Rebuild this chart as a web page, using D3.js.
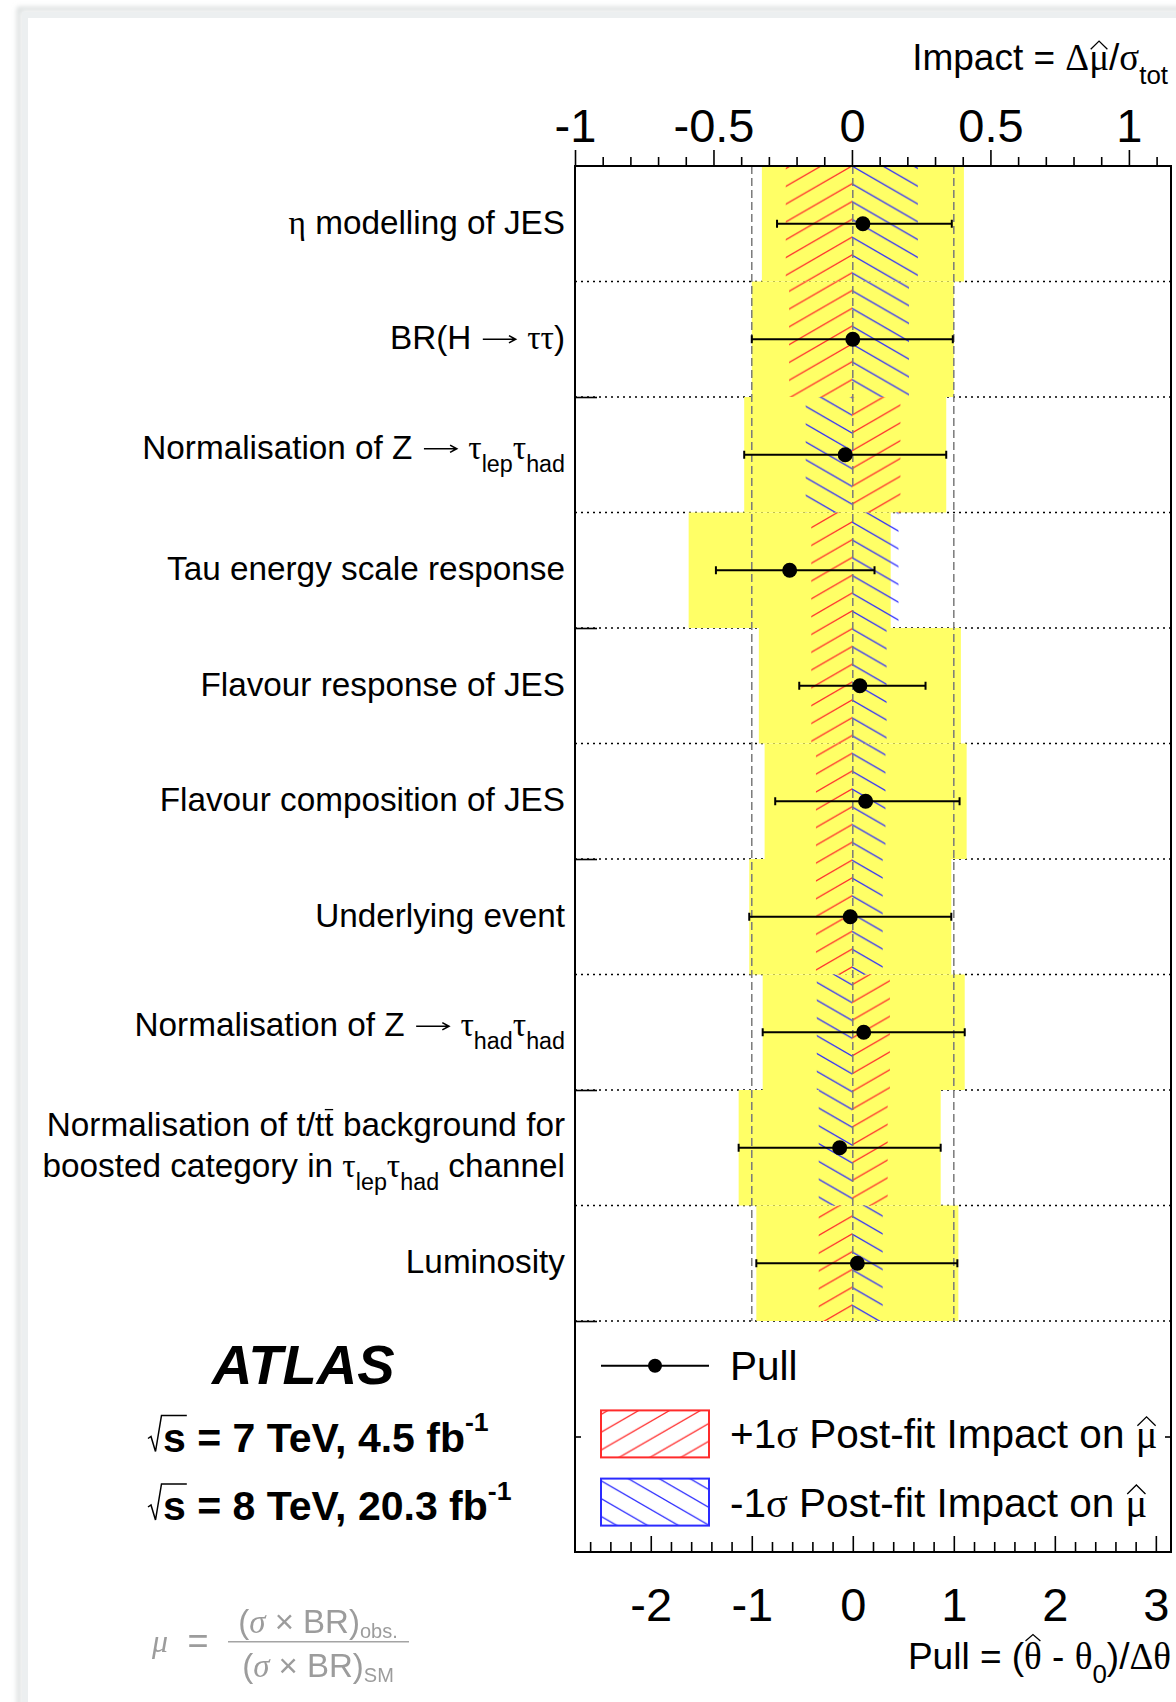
<!DOCTYPE html>
<html>
<head>
<meta charset="utf-8">
<script src="https://cdn.jsdelivr.net/npm/d3@7"></script>
<style>
  html, body { margin: 0; padding: 0; background: #fff; }
  svg { display: block; }
</style>
</head>
<body>
<svg id="chart" width="1176" height="1702"></svg>
<script>
// ---- Nuisance-parameter ranking (top to bottom), TLatex-style labels ----
const parameterLabels = [
  "#eta modelling of JES",
  "BR(H #rightarrow #tau#tau)",
  "Normalisation of Z #rightarrow #tau_{lep}#tau_{had}",
  "Tau energy scale response",
  "Flavour response of JES",
  "Flavour composition of JES",
  "Underlying event",
  "Normalisation of Z #rightarrow #tau_{had}#tau_{had}",
  "Normalisation of t/t#bar{t} background for\nboosted category in #tau_{lep}#tau_{had} channel",
  "Luminosity"
];

// Pull (theta_hat - theta_0)/Delta theta and its post-fit errors
const pullValues  = [0.10, 0.00, -0.075, -0.625, 0.07, 0.127, -0.025, 0.108, -0.13, 0.045];
const pullErrLow  = [0.85, 1.00, 1.00, 0.73, 0.60, 0.895, 1.00, 1.00, 1.00, 1.00];
const pullErrHigh = [0.88, 0.99, 1.00, 0.84, 0.65, 0.93, 1.00, 1.00, 1.00, 0.99];

// Post-fit impact on mu_hat for +1 sigma and -1 sigma variations
const impactUp   = [-0.239, -0.227, 0.175, -0.147, -0.147, -0.130, -0.130, 0.137, 0.129, -0.120];
const impactDown = [0.238, 0.206, -0.167, 0.168, 0.125, 0.121, 0.111, -0.127, -0.120, 0.111];

// Axis ticks
const impactTicks = [-1, -0.5, 0, 0.5, 1];
const pullTicks = [-2, -1, 0, 1, 2, 3];
const pullGuides = [-1, 0, 1];

// Legend entries
const legendLabels = ["Pull", "+1#sigma Post-fit Impact on #hat{#mu}", "-1#sigma Post-fit Impact on #hat{#mu}"];

// ---- Layout ----
const W = 1176, H = 1702;
const frame = { x0: 575, x1: 1171, y0: 166, y1: 1552 };
const SANS = "'Liberation Sans', Arial, Helvetica, sans-serif";
const SERIF = "'Liberation Serif', 'Times New Roman', serif";
const RED = "#ff2b2b", BLUE = "#2b2bff", YELLOW = "#ffff66";

const svg = d3.select("#chart");
const defs = svg.append("defs");

// Scales
const impact = d3.scaleLinear().domain([-1, 1.152]).range([frame.x0, frame.x1]);
const pull = d3.scaleLinear().domain([-2.75, 3.15]).range([frame.x0, frame.x1]);
const slots = d3.scaleBand().domain(d3.range(12)).range([frame.y0, frame.y1]).padding(0);
const yUnits = d3.scaleLinear().domain([0, 12]).range([frame.y1, frame.y0]);
const bw = slots.bandwidth();
const rowCenter = i => slots(i) + bw / 2;
const nRows = parameterLabels.length;

// ---- Page edge with soft shadow ----
defs.append("filter").attr("id", "pageShadow")
  .attr("x", "-5%").attr("y", "-5%").attr("width", "110%").attr("height", "110%")
  .append("feGaussianBlur").attr("stdDeviation", 2.5);
defs.append("filter").attr("id", "haze")
  .append("feGaussianBlur").attr("stdDeviation", 0.7);

svg.append("rect").attr("x", 19).attr("y", 9).attr("width", W).attr("height", H)
  .attr("fill", "none").attr("stroke", "#d6dada").attr("stroke-width", 4)
  .attr("filter", "url(#pageShadow)");
svg.append("rect").attr("x", 25).attr("y", 15).attr("width", W).attr("height", H)
  .attr("fill", "#fff").attr("stroke", "#eceff0").attr("stroke-width", 6);

// ---- Hatch patterns anchored on impact = 0 so both hatches meet on the axis ----
function hatch(id, color, rising) {
  const hh = 17.8, ww = hh / Math.tan(Math.PI / 6);
  const p = defs.append("pattern").attr("id", id)
    .attr("patternUnits", "userSpaceOnUse")
    .attr("width", ww).attr("height", hh)
    .attr("x", impact(0)).attr("y", frame.y0);
  [-1, 0, 1].forEach(k => {
    const d = rising
      ? `M${-ww},${2 * hh + k * hh} L${2 * ww},${-hh + k * hh}`
      : `M${-ww},${-hh + k * hh} L${2 * ww},${2 * hh + k * hh}`;
    p.append("path").attr("d", d).attr("stroke", color)
      .attr("stroke-width", 1.25).attr("fill", "none");
  });
}
hatch("hatchUp", RED, true);
hatch("hatchDown", BLUE, false);

// ---- Minimal TLatex-like text rendering ----
const GREEK = { eta: "η", tau: "τ", mu: "μ", sigma: "σ", theta: "θ", Delta: "Δ" };
function parseTex(src, base = {}) {
  const out = [];
  let i = 0, buf = "";
  const flush = () => { if (buf) { out.push({ ...base, text: buf }); buf = ""; } };
  const group = () => {
    let depth = 0, j = i;
    for (; j < src.length; j++) {
      if (src[j] === "{") depth++;
      else if (src[j] === "}" && --depth === 0) break;
    }
    const inner = src.slice(i + 1, j);
    i = j + 1;
    return inner;
  };
  while (i < src.length) {
    const c = src[i];
    if (c === "#") {
      const m = /^#([A-Za-z]+)/.exec(src.slice(i));
      const name = m[1];
      i += m[0].length;
      if (name in GREEK) { flush(); out.push({ ...base, text: GREEK[name], serif: true }); }
      else if (name === "rightarrow") { flush(); out.push({ ...base, text: "\u2003", arrow: true, deco: "arrow" }); }
      else { flush(); out.push(...parseTex(group(), { ...base, deco: name })); }
    } else if (c === "_" || c === "^") {
      flush();
      i++;
      const inner = src[i] === "{" ? group() : src[i++];
      out.push(...parseTex(inner, { ...base, shift: c === "_" ? "sub" : "sup" }));
    } else {
      buf += c;
      i++;
    }
  }
  flush();
  return out;
}

function drawTex(parent, src, x, y, opt) {
  const size = opt.size;
  const runs = parseTex(src);
  const t = parent.append("text")
    .attr("x", x).attr("y", y)
    .attr("text-anchor", opt.anchor || "start")
    .attr("font-family", SANS)
    .attr("font-size", size)
    .attr("font-weight", opt.weight || "normal")
    .attr("font-style", opt.style || "normal")
    .attr("fill", opt.fill || "#000")
    .style("white-space", "pre");
  let cur = 0, idx = 0;
  const marks = [];
  runs.forEach(r => {
    let scale = r.shift === "sub" ? (opt.subScale || 0.7) : r.shift === "sup" ? (opt.supScale || 0.65) : 1;
    if (r.arrow) scale = 1.12;
    const off = r.shift === "sub" ? size * (opt.subDrop || 0.37) : r.shift === "sup" ? -size * 0.5 : 0;
    const ts = t.append("tspan").text(r.text)
      .attr("dy", off - cur)
      .attr("font-size", size * scale);
    if (r.serif) ts.attr("font-family", SERIF).attr("font-weight", "normal").attr("font-style", "normal");
    cur = off;
    if (r.deco) marks.push({ deco: r.deco, start: idx, n: r.text.length, base: y + off, s: r.arrow ? size : size * scale, ch: r.text });
    idx += r.text.length;
  });
  const node = t.node();
  const stroke = opt.fill || "#000";
  marks.forEach(m => {
    const a = node.getExtentOfChar(m.start);
    const b = node.getExtentOfChar(m.start + m.n - 1);
    const x0 = a.x, x1 = b.x + b.width, w = x1 - x0;
    let d;
    if (m.deco === "hat") {
      const tall = m.ch === "θ";
      const lo = m.base - m.s * (tall ? 0.76 : 0.56);
      const hi = m.base - m.s * (tall ? 0.93 : 0.78);
      d = `M${x0 + w * 0.08},${lo} L${(x0 + x1) / 2},${hi} L${x1 - w * 0.08},${lo}`;
    } else if (m.deco === "bar") {
      const yb = m.base - m.s * 0.8;
      d = `M${x0 + w * 0.05},${yb} L${x1 - w * 0.05},${yb}`;
    } else if (m.deco === "sqrt") {
      const top = m.base - m.s * 0.88;
      d = `M${x0 - 15},${m.base - 13} L${x0 - 12},${m.base - 15} L${x0 - 7.5},${m.base} ` +
          `L${x0 - 1.5},${top} L${x1 + 1},${top}`;
    } else if (m.deco === "arrow") {
      const ya = m.base - m.s * 0.3, xs = x0 + w * 0.06, xe = x1 - w * 0.06;
      const hl = m.s * 0.2, hw = m.s * 0.11;
      d = `M${xs},${ya} L${xe},${ya} M${xe - hl},${ya - hw} L${xe},${ya} L${xe - hl},${ya + hw}`;
    }
    parent.append("path").attr("d", d).attr("fill", "none")
      .attr("stroke", stroke).attr("stroke-width", m.deco === "sqrt" ? 1.5 : m.deco === "arrow" ? 1.6 : 1.3)
      .attr("stroke-linejoin", "miter");
  });
  return t;
}

// ---- Plot body ----
const plot = svg.append("g");

// Row separators (dotted)
plot.append("g").selectAll("line")
  .data(d3.range(nRows))
  .join("line")
  .attr("x1", frame.x0).attr("x2", frame.x1)
  .attr("y1", i => slots(i) + bw).attr("y2", i => slots(i) + bw)
  .attr("stroke", "#000").attr("stroke-width", 1.5)
  .attr("stroke-dasharray", "2,4");

// Yellow band: pull +/- 1
plot.append("g").selectAll("rect")
  .data(pullValues)
  .join("rect")
  .attr("x", p => pull(p - 1))
  .attr("width", p => pull(p + 1) - pull(p - 1))
  .attr("y", (p, i) => slots(i))
  .attr("height", bw)
  .attr("fill", YELLOW);

// Impact hatches
function impactRects(values, fillId) {
  plot.append("g").selectAll("rect")
    .data(values)
    .join("rect")
    .attr("x", v => Math.min(impact(0), impact(v)))
    .attr("width", v => Math.abs(impact(v) - impact(0)))
    .attr("y", (v, i) => slots(i))
    .attr("height", bw)
    .attr("fill", `url(#${fillId})`);
}
impactRects(impactUp, "hatchUp");
impactRects(impactDown, "hatchDown");

// Pull guide lines at -1, 0, +1
plot.append("g").selectAll("line")
  .data(pullGuides)
  .join("line")
  .attr("x1", d => pull(d)).attr("x2", d => pull(d))
  .attr("y1", frame.y0).attr("y2", slots(nRows - 1) + bw)
  .attr("stroke", "#7a7a7a").attr("stroke-width", 1.5)
  .attr("stroke-dasharray", "8,4");

// Pull error bars and points
const bars = plot.append("g").selectAll("g")
  .data(pullValues.map((p, i) => ({ p, lo: pullErrLow[i], hi: pullErrHigh[i], i })))
  .join("g")
  .attr("stroke", "#000").attr("stroke-width", 2);
bars.append("line")
  .attr("x1", d => pull(d.p - d.lo)).attr("x2", d => pull(d.p + d.hi))
  .attr("y1", d => rowCenter(d.i)).attr("y2", d => rowCenter(d.i));
bars.append("line")
  .attr("x1", d => pull(d.p - d.lo)).attr("x2", d => pull(d.p - d.lo))
  .attr("y1", d => rowCenter(d.i) - 4).attr("y2", d => rowCenter(d.i) + 4);
bars.append("line")
  .attr("x1", d => pull(d.p + d.hi)).attr("x2", d => pull(d.p + d.hi))
  .attr("y1", d => rowCenter(d.i) - 4).attr("y2", d => rowCenter(d.i) + 4);
bars.append("circle")
  .attr("cx", d => pull(d.p)).attr("cy", d => rowCenter(d.i))
  .attr("r", 7.5).attr("fill", "#000").attr("stroke", "none");

// ---- Frame and axes ----
svg.append("rect")
  .attr("x", frame.x0).attr("y", frame.y0)
  .attr("width", frame.x1 - frame.x0).attr("height", frame.y1 - frame.y0)
  .attr("fill", "none").attr("stroke", "#000").attr("stroke-width", 2);

function styleAxis(g) {
  g.select(".domain").remove();
  g.selectAll(".tick line").attr("stroke", "#000").attr("stroke-width", 1.6);
  g.selectAll("text").attr("font-family", SANS).attr("font-size", 47).attr("fill", "#000");
}

// Top: impact axis
const impactMinor = d3.range(-10, 12).map(k => k / 10).filter(v => Math.abs(v * 2 - Math.round(v * 2)) > 1e-6);
svg.append("g").attr("transform", `translate(0,${frame.y0})`)
  .call(d3.axisTop(impact).tickValues(impactMinor).tickSize(9).tickFormat(""))
  .call(styleAxis);
svg.append("g").attr("transform", `translate(0,${frame.y0})`)
  .call(d3.axisTop(impact).tickValues(impactTicks).tickSize(16).tickFormat(d => String(d)))
  .call(styleAxis)
  .call(g => g.selectAll("text").attr("y", -24.5).attr("dy", null));

// Bottom: pull axis, ticks pointing inward
const pullMinor = d3.range(-13, 16).map(k => k / 5).filter(v => Math.abs(v - Math.round(v)) > 1e-6);
svg.append("g").attr("transform", `translate(0,${frame.y1})`)
  .call(d3.axisBottom(pull).tickValues(pullMinor).tickSize(-10).tickFormat(""))
  .call(styleAxis);
svg.append("g").attr("transform", `translate(0,${frame.y1})`)
  .call(d3.axisBottom(pull).tickValues(pullTicks).tickSize(-16).tickFormat(d => String(d)))
  .call(styleAxis)
  .call(g => g.selectAll("text").attr("y", 68.7).attr("dy", null));

// Left / right vertical ticks
svg.append("g").attr("transform", `translate(${frame.x0},0)`)
  .call(d3.axisRight(yUnits).tickValues([2, 4, 6, 8, 10]).tickSize(22).tickFormat(""))
  .call(styleAxis);
svg.append("g").attr("transform", `translate(${frame.x0},0)`)
  .call(d3.axisRight(yUnits).tickValues([1]).tickSize(6).tickFormat(""))
  .call(styleAxis);
svg.append("g").attr("transform", `translate(${frame.x1},0)`)
  .call(d3.axisLeft(yUnits).tickValues([1]).tickSize(6).tickFormat(""))
  .call(styleAxis);

// Axis titles
drawTex(svg, "Impact = #Delta#hat{#mu}/#sigma_{tot}", 1168, 70, { size: 37, anchor: "end" });
drawTex(svg, "Pull = (#hat{#theta} - #theta_{0})/#Delta#theta", 1171, 1669, { size: 37, anchor: "end" });

// ---- Parameter labels ----
const labelGroup = svg.append("g");
parameterLabels.forEach((lab, i) => {
  const lines = lab.split("\n");
  const hasSub = lab.includes("_{");
  const shift = lines.length > 1 ? 9 : (hasSub ? 4 : 10);
  lines.forEach((ln, k) => {
    const y = rowCenter(i) + shift + (k - (lines.length - 1) / 2) * 41;
    drawTex(labelGroup, ln, 565, y, { size: 33.3, anchor: "end", subDrop: 0.39 });
  });
});

// ---- Legend ----
const legend = svg.append("g");
const legX = 601, legW = 108, boxH = 47, textX = 730;
const legCenter = k => slots(10) + 44.7 + k * 68.2;
legend.append("line")
  .attr("x1", legX).attr("x2", legX + legW)
  .attr("y1", legCenter(0)).attr("y2", legCenter(0))
  .attr("stroke", "#000").attr("stroke-width", 2);
legend.append("circle")
  .attr("cx", legX + legW / 2).attr("cy", legCenter(0)).attr("r", 7);
[["hatchUp", RED], ["hatchDown", BLUE]].forEach(([id, col], k) => {
  legend.append("rect")
    .attr("x", legX).attr("y", legCenter(k + 1) - boxH / 2)
    .attr("width", legW).attr("height", boxH)
    .attr("fill", `url(#${id})`).attr("stroke", col).attr("stroke-width", 2);
});
legendLabels.forEach((lab, k) => {
  drawTex(legend, lab, textX, legCenter(k) + 14.5, { size: 40.5 });
});

// ---- Experiment label ----
const atlas = svg.append("g");
atlas.append("text")
  .attr("x", 212).attr("y", 1383.5)
  .attr("font-family", SANS).attr("font-size", 56)
  .attr("font-weight", "bold").attr("font-style", "italic")
  .text("ATLAS");
drawTex(atlas, "#sqrt{s} = 7 TeV, 4.5 fb^{-1}", 163, 1451.5, { size: 41, weight: "bold" });
drawTex(atlas, "#sqrt{s} = 8 TeV, 20.3 fb^{-1}", 163, 1520, { size: 41, weight: "bold" });

// ---- Signal-strength definition ----
const muDef = svg.append("g").attr("fill", "#9c9c9c").attr("filter", "url(#haze)");
muDef.append("text").attr("x", 152).attr("y", 1652)
  .attr("font-family", SERIF).attr("font-style", "italic").attr("font-size", 32).text("μ");
muDef.append("text").attr("x", 198).attr("y", 1653).attr("text-anchor", "middle")
  .attr("font-family", SANS).attr("font-size", 36).text("=");
muDef.append("line").attr("x1", 228).attr("x2", 409).attr("y1", 1641.7).attr("y2", 1641.7)
  .attr("stroke", "#a4a4a4").attr("stroke-width", 1.6);
function ratioTerm(y, subText) {
  const t = muDef.append("text").attr("x", 318).attr("y", y).attr("text-anchor", "middle")
    .attr("font-family", SANS).attr("font-size", 33).style("white-space", "pre");
  t.append("tspan").text("(");
  t.append("tspan").attr("font-family", SERIF).attr("font-style", "italic").text("σ");
  t.append("tspan").text(" × BR)");
  t.append("tspan").attr("font-size", 20).attr("dy", 5).text(subText);
}
ratioTerm(1633, "obs.");
ratioTerm(1676.5, "SM");
</script>
</body>
</html>
